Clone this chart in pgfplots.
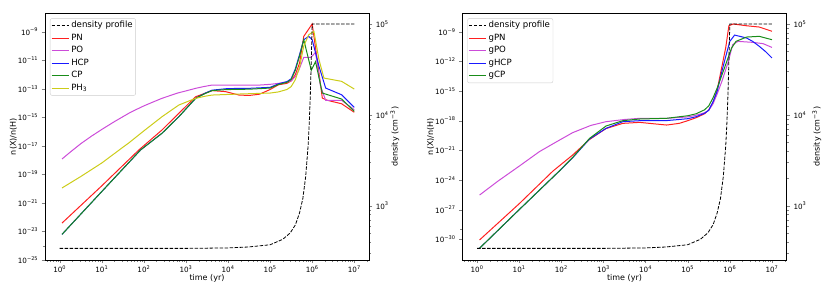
\documentclass[border=0pt]{standalone}
\usepackage{fontspec}
\setmainfont{DejaVu Sans}
\usepackage{pgfplots}
\pgfplotsset{compat=1.18}

\definecolor{cPN}{rgb}{1,0.12,0.12}
\definecolor{cPO}{rgb}{0.8,0.3,0.85}
\definecolor{cHCP}{rgb}{0.1,0.1,1}
\definecolor{cCP}{rgb}{0.1,0.55,0.1}
\definecolor{cPH}{rgb}{0.8,0.8,0.1}

\tikzset{
  densline/.style={black, line width=0.8pt, dash pattern=on 3.5pt off 1.5pt},
  spline/.style={line width=1.0pt},
}

\begin{document}
\begin{tikzpicture}
\useasboundingbox (0,0) rectangle (830pt,285pt);

\begin{axis}[at={(45pt,25pt)}, anchor=south west,
  scale only axis, width=324pt, height=246.7pt,
  xmode=log, ymode=log, xmin=0.4467, xmax=2.2387e7,
  ymin=1e-25, ymax=1.94e-8,
  tick align=outside, major tick length=3.3pt, minor tick length=1.9pt,
  axis line style={line width=0.6pt},
  tick label style={font=\fontsize{7.2}{8}\selectfont},
  xticklabel style={yshift=1pt},
  xtick={1,10,100,1000,10000,100000,1000000,10000000},
  xticklabels={10\textsuperscript{0},10\textsuperscript{1},10\textsuperscript{2},10\textsuperscript{3},10\textsuperscript{4},10\textsuperscript{5},10\textsuperscript{6},10\textsuperscript{7}},
  minor xtick={0.5,0.6,0.7,0.8,0.9,2,3,4,5,6,7,8,9,20,30,40,50,60,70,80,90,200,300,400,500,600,700,800,900,2000,3000,4000,5000,6000,7000,8000,9000,2e4,3e4,4e4,5e4,6e4,7e4,8e4,9e4,2e5,3e5,4e5,5e5,6e5,7e5,8e5,9e5,2e6,3e6,4e6,5e6,6e6,7e6,8e6,9e6,2e7},
  ytick={1e-25,1e-23,1e-21,1e-19,1e-17,1e-15,1e-13,1e-11,1e-9},
  yticklabels={10\textsuperscript{−25},10\textsuperscript{−23},10\textsuperscript{−21},10\textsuperscript{−19},10\textsuperscript{−17},10\textsuperscript{−15},10\textsuperscript{−13},10\textsuperscript{−11},10\textsuperscript{−9}},
  minor ytick={1e-24},
  xtick pos=left, ytick pos=left,
  xlabel={time (yr)}, ylabel={n(X)/n(H)},
  xlabel style={font=\fontsize{8}{9.5}\selectfont, at={(axis description cs:0.5,-0.076)}, anchor=center},
  ylabel style={font=\fontsize{8}{9.5}\selectfont, at={(axis description cs:-0.098,0.5)}, anchor=center},
  legend cell align=left,
  legend style={at={(axis description cs:0.0154,0.98)}, anchor=north west,
    draw=black!20, rounded corners=2pt, fill=white,
    font=\fontsize{8.6}{9.5}\selectfont, inner sep=1pt,
    nodes={inner sep=2pt, text height=6.2pt, text depth=2.3pt}}]
\addlegendimage{densline}
\addlegendentry{density profile}
\addplot[spline, cPN] coordinates {(1.135,3.89e-23) (10,1.585e-20) (75.86,5.13e-18) (269.2,1.288e-16) (676.1,1.905e-15) (1698,2.754e-14) (4169,7.41e-14) (8710,6.31e-14) (18200,3.63e-14) (31620,3.39e-14) (56230,4.17e-14) (100000,8.91e-14) (158500,1.905e-13) (251200,2.399e-13) (316200,3.548e-13) (398100,1e-12) (501200,6.31e-12) (630000,4.68e-10) (1000000,3.47e-9) (1320000,1e-11) (1740000,2.24e-14) (2290000,1.55e-14) (5000000,8.91e-15) (10000000,2.24e-15)};
\addlegendentry{PN}
\addplot[spline, cPO] coordinates {(1.135,1.20e-18) (1.778,3.63e-18) (3.162,1.413e-17) (5.623,4.68e-17) (10,1.413e-16) (20,5.01e-16) (43.65,1.905e-15) (63.1,3.31e-15) (100,6.31e-15) (158.5,1.122e-14) (269.2,2.138e-14) (631,5.01e-14) (1000,7.08e-14) (1698,1.072e-13) (2512,1.38e-13) (4169,1.82e-13) (18200,1.82e-13) (56230,1.82e-13) (100000,2.042e-13) (158500,2.399e-13) (251200,3.02e-13) (316200,3.548e-13) (398100,7.08e-13) (480000,2e-12) (630000,1.58e-11) (930000,1.58e-11) (1200000,3.55e-11) (1580000,1.48e-13) (2090000,1.55e-14) (5000000,1.55e-14) (10000000,3.39e-15)};
\addlegendentry{PO}
\addplot[spline, cHCP] coordinates {(1.135,6.31e-24) (10,6.31e-21) (83.18,5.13e-18) (269.2,7.59e-17) (676.1,1.096e-15) (1698,2.138e-14) (2884,5.01e-14) (4169,7.94e-14) (8710,1e-13) (18200,1.072e-13) (31620,1.072e-13) (100000,1.259e-13) (158500,2.239e-13) (251200,3.16e-13) (316200,5.01e-13) (398100,2.51e-12) (501200,2.51e-11) (630000,2.75e-10) (830000,4.68e-10) (1000000,2.75e-10) (1450000,3.72e-12) (2090000,1.12e-13) (5000000,3.80e-14) (10000000,5.01e-15)};
\addlegendentry{HCP}
\addplot[spline, cCP] coordinates {(1.135,6.31e-24) (10,6.31e-21) (83.18,5.13e-18) (269.2,7.59e-17) (676.1,1.096e-15) (1698,2.138e-14) (2884,4.68e-14) (4169,7.41e-14) (8710,8.71e-14) (18200,9.12e-14) (31620,9.33e-14) (100000,1.122e-13) (158500,2.0e-13) (251200,2.82e-13) (316200,4.47e-13) (398100,2e-12) (501200,2e-11) (630000,2.75e-10) (950000,2e-12) (1200000,7.94e-12) (1740000,5.01e-14) (5000000,1.91e-14) (10000000,2.63e-15)};
\addlegendentry{CP}
\addplot[spline, cPH] coordinates {(1.135,1.12e-20) (3.162,7.08e-20) (10,6.31e-19) (31.62,7.94e-18) (43.65,1.585e-17) (100,1.122e-16) (269.2,1.096e-15) (676.1,7.24e-15) (1698,2.138e-14) (2884,3.02e-14) (4169,3.63e-14) (18200,4.27e-14) (100000,5.01e-14) (158500,6.03e-14) (251200,8.91e-14) (316200,1.413e-13) (398100,4.365e-13) (501200,3.162e-12) (630000,1e-10) (830000,6.17e-10) (1100000,1.05e-9) (1450000,1.10e-11) (1900000,5.62e-13) (5000000,3.31e-13) (10000000,9.55e-14)};
\addlegendentry{PH\textsubscript{3}}
\end{axis}

\begin{axis}[at={(45pt,25pt)}, anchor=south west,
  scale only axis, width=324pt, height=246.7pt,
  xmode=log, ymode=log, xmin=0.4467, xmax=2.2387e7,
  ymin=252.4, ymax=131200,
  hide x axis, axis y line*=right,
  tick align=outside, major tick length=3.3pt, minor tick length=1.9pt,
  axis line style={line width=0.6pt},
  tick label style={font=\fontsize{7.2}{8}\selectfont},
  ytick={1000,10000,100000},
  yticklabels={10\textsuperscript{3},10\textsuperscript{4},10\textsuperscript{5}},
  minor ytick={300,400,500,600,700,800,900,2000,3000,4000,5000,6000,7000,8000,9000,20000,30000,40000,50000,60000,70000,80000,90000},
  ylabel={density (cm\textsuperscript{−3})},
  ylabel style={font=\fontsize{8}{9.5}\selectfont, at={(axis description cs:1.080,0.5)}, anchor=center}]
\addplot[densline] coordinates {(1,338.8) (1000,338.8) (10000,342.8) (30000,350.8) (100000,371.5) (200000,426.6) (300000,501.2) (400000,616.6) (500000,831.8) (600000,1202) (700000,2089) (800000,4571) (850000,7943) (900000,15850) (950000,39810) (1000000,100000) (10000000,100000)};
\end{axis}

\begin{axis}[at={(462.3pt,25pt)}, anchor=south west,
  scale only axis, width=324.4pt, height=246.7pt,
  xmode=log, ymode=log, xmin=0.4467, xmax=2.2387e7,
  ymin=8.13e-33, ymax=7.24e-8,
  tick align=outside, major tick length=3.3pt, minor tick length=1.9pt,
  axis line style={line width=0.6pt},
  tick label style={font=\fontsize{7.2}{8}\selectfont},
  xticklabel style={yshift=1pt},
  xtick={1,10,100,1000,10000,100000,1000000,10000000},
  xticklabels={10\textsuperscript{0},10\textsuperscript{1},10\textsuperscript{2},10\textsuperscript{3},10\textsuperscript{4},10\textsuperscript{5},10\textsuperscript{6},10\textsuperscript{7}},
  minor xtick={0.5,0.6,0.7,0.8,0.9,2,3,4,5,6,7,8,9,20,30,40,50,60,70,80,90,200,300,400,500,600,700,800,900,2000,3000,4000,5000,6000,7000,8000,9000,2e4,3e4,4e4,5e4,6e4,7e4,8e4,9e4,2e5,3e5,4e5,5e5,6e5,7e5,8e5,9e5,2e6,3e6,4e6,5e6,6e6,7e6,8e6,9e6,2e7},
  ytick={1e-30,1e-27,1e-24,1e-21,1e-18,1e-15,1e-12,1e-9},
  yticklabels={10\textsuperscript{−30},10\textsuperscript{−27},10\textsuperscript{−24},10\textsuperscript{−21},10\textsuperscript{−18},10\textsuperscript{−15},10\textsuperscript{−12},10\textsuperscript{−9}},
  minor ytick={1e-29},
  xtick pos=left, ytick pos=left,
  xlabel={time (yr)}, ylabel={n(X)/n(H)},
  xlabel style={font=\fontsize{8}{9.5}\selectfont, at={(axis description cs:0.5,-0.076)}, anchor=center},
  ylabel style={font=\fontsize{8}{9.5}\selectfont, at={(axis description cs:-0.0974,0.5)}, anchor=center},
  legend cell align=left,
  legend style={at={(axis description cs:0.0154,0.98)}, anchor=north west,
    draw=black!20, rounded corners=2pt, fill=white,
    font=\fontsize{8.6}{9.5}\selectfont, inner sep=1pt,
    nodes={inner sep=2pt, text height=6.2pt, text depth=2.3pt}}]
\addlegendimage{densline}
\addlegendentry{density profile}
\addplot[spline, cPN] coordinates {(1.148,8.71e-31) (10,3.98e-27) (63.1,7.94e-24) (186.2,3.39e-22) (467.7,1.259e-20) (1148,1.585e-19) (2884,5.37e-19) (7244,6.76e-19) (12300,5.37e-19) (31620,3.63e-19) (63100,5.37e-19) (100000,1e-18) (158500,2e-18) (251200,5.01e-18) (316200,1.259e-17) (398100,6.31e-17) (501200,1.26e-15) (650000,3.16e-13) (800000,2.51e-11) (950000,3.98e-9) (1200000,6.03e-9) (2500000,3.98e-9) (5000000,2.95e-9) (10000000,1.10e-9)};
\addlegendentry{gPN}
\addplot[spline, cPO] coordinates {(1.148,3.02e-26) (3.162,7.94e-25) (10,2.51e-23) (30.2,7.41e-22) (79.4,7.94e-21) (186.2,6.17e-20) (501,3.31e-19) (1148,7.94e-19) (3162,1.318e-18) (7244,1.738e-18) (31620,1.738e-18) (100000,2.399e-18) (158500,3.548e-18) (251200,6.31e-18) (316200,1.122e-17) (398100,5.01e-17) (501200,5.01e-16) (650000,1e-14) (900000,6.76e-13) (1170000,4.90e-11) (1550000,1.05e-10) (3550000,8.32e-11) (6170000,6.17e-11) (10000000,2.57e-11)};
\addlegendentry{gPO}
\addplot[spline, cHCP] coordinates {(1.148,1.259e-31) (10,1e-27) (89.13,7.94e-24) (186.2,1.778e-22) (467.7,1.413e-20) (1148,1.66e-19) (2884,7.94e-19) (7244,1e-18) (31620,1.023e-18) (100000,1.585e-18) (158500,2.51e-18) (251200,5.62e-18) (316200,1.122e-17) (398100,7.94e-17) (501200,1e-15) (650000,1e-13) (800000,3.16e-12) (1000000,1.05e-10) (1300000,4.57e-10) (2500000,2.29e-10) (3550000,1e-10) (5000000,3.31e-11) (7000000,1e-11) (10000000,2.19e-12)};
\addlegendentry{gHCP}
\addplot[spline, cCP] coordinates {(1.148,1.259e-31) (10,1e-27) (89.13,7.94e-24) (186.2,1.95e-22) (467.7,1.622e-20) (1148,2.884e-19) (2884,1e-18) (7244,1.479e-18) (31620,1.738e-18) (100000,3.16e-18) (158500,5.01e-18) (251200,1.259e-17) (316200,3.16e-17) (398100,2e-16) (501200,2e-15) (800000,5.01e-13) (1100000,2.24e-11) (1400000,1.05e-10) (2500000,2.88e-10) (5000000,3.39e-10) (10000000,1.55e-10)};
\addlegendentry{gCP}
\end{axis}

\begin{axis}[at={(462.3pt,25pt)}, anchor=south west,
  scale only axis, width=324.4pt, height=246.7pt,
  xmode=log, ymode=log, xmin=0.4467, xmax=2.2387e7,
  ymin=252.4, ymax=131200,
  hide x axis, axis y line*=right,
  tick align=outside, major tick length=3.3pt, minor tick length=1.9pt,
  axis line style={line width=0.6pt},
  tick label style={font=\fontsize{7.2}{8}\selectfont},
  ytick={1000,10000,100000},
  yticklabels={10\textsuperscript{3},10\textsuperscript{4},10\textsuperscript{5}},
  minor ytick={300,400,500,600,700,800,900,2000,3000,4000,5000,6000,7000,8000,9000,20000,30000,40000,50000,60000,70000,80000,90000},
  ylabel={density (cm\textsuperscript{−3})},
  ylabel style={font=\fontsize{8}{9.5}\selectfont, at={(axis description cs:1.093,0.5)}, anchor=center}]
\addplot[densline] coordinates {(1,338.8) (1000,338.8) (10000,342.8) (30000,350.8) (100000,371.5) (200000,426.6) (300000,501.2) (400000,616.6) (500000,831.8) (600000,1202) (700000,2089) (800000,4571) (850000,7943) (900000,15850) (950000,39810) (1000000,100000) (10000000,100000)};
\end{axis}
\end{tikzpicture}
\end{document}
